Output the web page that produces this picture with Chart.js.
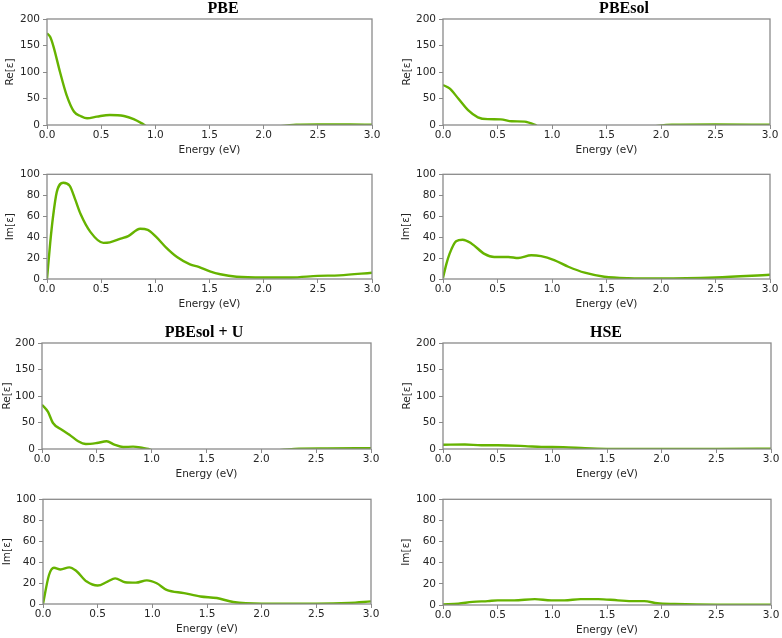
<!DOCTYPE html>
<html>
<head>
<meta charset="utf-8">
<script src="https://cdn.jsdelivr.net/npm/chart.js@4"></script>
<style>
  html, body { margin: 0; padding: 0; background: #fff; }
  body { position: relative; width: 782px; height: 638px; overflow: hidden; }
  canvas { position: absolute; }
</style>
</head>
<body>
<script>
// Tick labels
const xTicks = [0, 0.5, 1.0, 1.5, 2.0, 2.5, 3.0];
const reTicks = [0, 50, 100, 150, 200];
const imTicks = [0, 20, 40, 60, 80, 100];

// PBE
const pbeReE = [0, 0.03, 0.06, 0.12, 0.18, 0.25, 0.31, 0.37, 0.46, 0.58, 0.71, 0.80, 0.89, 0.95, 1.2, 1.6, 2.0, 2.3, 2.5, 2.8, 3.0];
const pbeReV = [173, 166, 148, 100, 57, 25, 17, 12.6, 15.7, 19, 17, 11, 1.3, -6, -9, -9, -6, 0.5, 1, 1, 0.5];
const pbeImE = [0, 0.03, 0.055, 0.09, 0.15, 0.21, 0.26, 0.31, 0.40, 0.52, 0.58, 0.68, 0.75, 0.86, 0.93, 1.01, 1.1, 1.2, 1.32, 1.4, 1.51, 1.6, 1.75, 2.0, 2.25, 2.5, 2.7, 3.0];
const pbeImV = [0, 35, 59, 83, 92, 89, 76, 62, 45, 34.5, 35, 38.5, 41, 48, 47, 40, 30, 21, 14, 11.5, 7, 4.5, 2.2, 1.5, 1.5, 3, 3.5, 6];

// PBEsol
const solReE = [0, 0.06, 0.14, 0.23, 0.32, 0.41, 0.53, 0.63, 0.75, 0.84, 0.9, 1.2, 1.6, 1.9, 2.1, 2.5, 3.0];
const solReV = [75.5, 69, 50, 28, 14.5, 11, 10.7, 7, 6.3, 0.6, -6, -9, -8, -3, 0.5, 1, 0.5];
const solImE = [0, 0.03, 0.06, 0.12, 0.18, 0.26, 0.38, 0.47, 0.6, 0.69, 0.81, 0.9, 1.02, 1.15, 1.3, 1.48, 1.7, 2.0, 2.5, 3.0];
const solImV = [1, 14, 24, 36, 37.5, 34, 24, 21, 21, 20, 22.7, 21.8, 18, 11.7, 6, 2.2, 0.8, 0.5, 1.5, 4];

// PBEsol + U
const solUReE = [0, 0.055, 0.1, 0.18, 0.25, 0.33, 0.4, 0.5, 0.59, 0.66, 0.74, 0.83, 0.92, 0.97, 1.05, 1.5, 2.0, 2.3, 2.6, 3.0];
const solUReV = [83.6, 70, 49, 36.5, 27, 14.5, 9.4, 11.3, 14.5, 8.2, 3.8, 4.4, 1.9, 0, -6, -9, -6, 0.3, 1, 1.5];
const solUImE = [0, 0.055, 0.1, 0.16, 0.24, 0.3, 0.4, 0.5, 0.59, 0.66, 0.75, 0.85, 0.95, 1.04, 1.13, 1.29, 1.44, 1.59, 1.74, 2.0, 2.5, 2.8, 3.0];
const solUImV = [0, 27.7, 34.6, 33, 35, 32, 21.4, 17.6, 21.4, 24.5, 20.8, 20.4, 22.6, 19.8, 13.5, 10.4, 7.2, 5.7, 1.9, 0.3, 0.3, 1, 2.5];

// HSE
const hseReE = [0, 0.2, 0.35, 0.5, 0.75, 0.9, 1.1, 1.3, 1.5, 1.8, 2.0, 2.5, 3.0];
const hseReV = [8, 8.5, 7, 7, 5.5, 4, 3.5, 1.5, 0.3, 0, 0.2, 0.3, 0.5];
const hseImE = [0, 0.14, 0.27, 0.41, 0.5, 0.65, 0.84, 0.99, 1.11, 1.26, 1.42, 1.6, 1.75, 1.84, 1.96, 2.12, 2.5, 3.0];
const hseImV = [0.6, 1.2, 3, 3.7, 4.4, 4.4, 5.6, 4.4, 4.4, 5.6, 5.6, 4.4, 3.7, 3.7, 1.6, 0.9, 0.3, 0.3];

// Panel layout (plot box in page pixels)
const panels = [
    { title: 'PBE',        titleX: 223, label: 'Re[ε]', e: pbeReE,  v: pbeReV,  ticks: reTicks, L: 47,  R: 372, T: 19,  B: 125, labelX: 10 },
    { title: null,                      label: 'Im[ε]', e: pbeImE,  v: pbeImV,  ticks: imTicks, L: 47,  R: 372, T: 173, B: 279, labelX: 10 },
    { title: 'PBEsol',     titleX: 624, label: 'Re[ε]', e: solReE,  v: solReV,  ticks: reTicks, L: 443, R: 770, T: 19,  B: 125, labelX: 407 },
    { title: null,                      label: 'Im[ε]', e: solImE,  v: solImV,  ticks: imTicks, L: 443, R: 770, T: 173, B: 279, labelX: 406 },
    { title: 'PBEsol + U', titleX: 204, label: 'Re[ε]', e: solUReE, v: solUReV, ticks: reTicks, L: 42,  R: 371, T: 343, B: 449, labelX: 7 },
    { title: null,                      label: 'Im[ε]', e: solUImE, v: solUImV, ticks: imTicks, L: 43,  R: 371, T: 498, B: 604, labelX: 7 },
    { title: 'HSE',        titleX: 606, label: 'Re[ε]', e: hseReE,  v: hseReV,  ticks: reTicks, L: 443, R: 771, T: 343, B: 449, labelX: 407 },
    { title: null,                      label: 'Im[ε]', e: hseImE,  v: hseImV,  ticks: imTicks, L: 443, R: 771, T: 498, B: 605, labelX: 406 }
];

// Box around the plot area + panel title
const framePlugin = {
    id: 'frame',
    afterDraw(chart, args, opts) {
        const { ctx, chartArea: a } = chart;
        ctx.save();
        ctx.strokeStyle = '#8a8a8a';
        ctx.lineWidth = 1.3;
        ctx.strokeRect(a.left, a.top, a.width, a.height);
        if (opts.text) {
            ctx.fillStyle = '#000';
            ctx.font = 'bold 16px "Liberation Serif", "DejaVu Serif", serif';
            ctx.textAlign = 'center';
            ctx.textBaseline = 'middle';
            ctx.fillText(opts.text, opts.x, a.top - 10);
        }
        ctx.restore();
    }
};

const tickFont = { family: 'DejaVu Sans', size: 10.5 };
const textColor = '#262626';

panels.forEach(p => {
    const padTop = p.title ? 19 : 8;
    const padRight = 14;
    const xAxisH = 36;
    const cLeft = p.labelX - 10;
    const cTop = p.T - padTop;
    const w = p.R - cLeft + padRight;
    const h = padTop + (p.B - p.T) + xAxisH;

    const cv = document.createElement('canvas');
    cv.width = w;
    cv.height = h;
    cv.style.left = cLeft + 'px';
    cv.style.top = cTop + 'px';
    cv.style.width = w + 'px';
    cv.style.height = h + 'px';
    document.body.appendChild(cv);

    new Chart(cv.getContext('2d'), {
        type: 'line',
        data: {
            datasets: [{
                data: p.e.map((x, i) => ({ x: x, y: p.v[i] })),
                borderColor: '#66b300',
                borderWidth: 2.4,
                pointRadius: 0,
                fill: false,
                cubicInterpolationMode: 'monotone'
            }]
        },
        plugins: [framePlugin],
        options: {
            responsive: false,
            animation: false,
            layout: { padding: { top: padTop, right: padRight, left: 0, bottom: 0 } },
            plugins: {
                legend: { display: false },
                tooltip: { enabled: false },
                frame: { text: p.title, x: p.title ? p.titleX - cLeft : 0 }
            },
            scales: {
                x: {
                    type: 'linear',
                    min: xTicks[0],
                    max: xTicks[xTicks.length - 1],
                    afterBuildTicks: s => { s.ticks = xTicks.map(v => ({ value: v })); },
                    afterFit: s => { s.height = xAxisH; },
                    grid: { drawOnChartArea: false, tickLength: 4, color: '#8a8a8a' },
                    border: { display: false },
                    ticks: {
                        padding: 0,
                        color: textColor,
                        font: tickFont,
                        maxRotation: 0,
                        autoSkip: false,
                        callback: v => Number(v).toFixed(1)
                    },
                    title: { display: true, text: 'Energy (eV)', color: textColor, font: tickFont }
                },
                y: {
                    min: p.ticks[0],
                    max: p.ticks[p.ticks.length - 1],
                    afterBuildTicks: s => { s.ticks = p.ticks.map(v => ({ value: v })); },
                    afterFit: s => { s.width = p.L - cLeft; },
                    grid: { drawOnChartArea: false, tickLength: 4, color: '#8a8a8a' },
                    border: { display: false },
                    ticks: { padding: 3, color: textColor, font: tickFont },
                    title: { display: true, text: p.label, color: textColor, font: tickFont }
                }
            }
        }
    });
});
</script>
</body>
</html>
